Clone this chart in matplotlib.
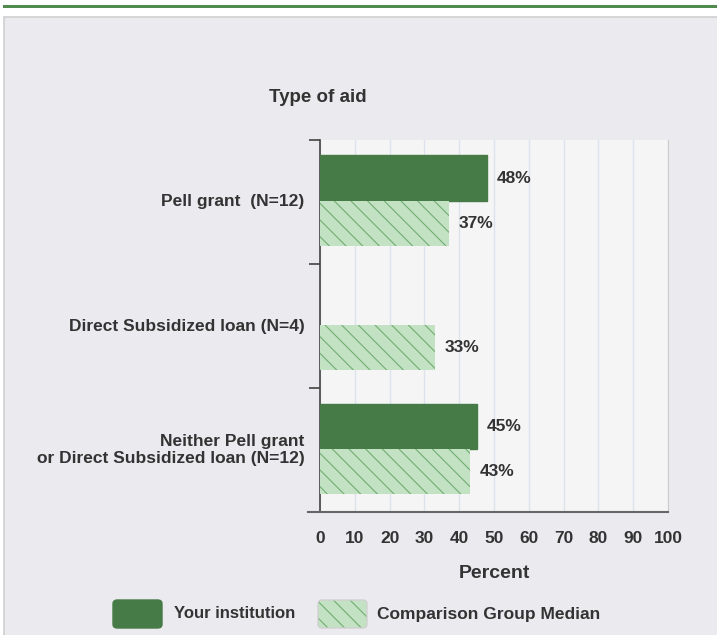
import matplotlib
matplotlib.use("Agg")
import matplotlib.pyplot as plt
from matplotlib.patches import Rectangle, FancyBboxPatch
import numpy as np

categories = ["Pell grant  (N=12)", "Direct Subsidized loan (N=4)",
              "Neither Pell grant\nor Direct Subsidized loan (N=12)"]
your_inst = [48, None, 45]
comparison = [37, 33, 43]
xticks = [0, 10, 20, 30, 40, 50, 60, 70, 80, 90, 100]

DARK = "#467a46"
LIGHT = "#c3e2c3"
HATCH = "#72ad72"
TXT = "#333333"
plt.rcParams['font.family'] = ['Liberation Sans', 'DejaVu Sans']
plt.rcParams['hatch.linewidth'] = 0.8
plt.rcParams['hatch.color'] = HATCH

W, H = 717, 635
fig = plt.figure(figsize=(W/100, H/100), dpi=100)
fig.patch.set_facecolor("white")

# top green line and grey panel
fig.add_artist(Rectangle((3/W, 1-8/H), 1, 3/H, transform=fig.transFigure,
                         facecolor="#4f8a4f", edgecolor="none", zorder=-2))
fig.add_artist(Rectangle((4/W, -0.01), 1, 1-17/H + 0.01, transform=fig.transFigure,
                         facecolor="#ebebef", edgecolor="#d0d0d0", linewidth=1.2, zorder=-2))

ax = fig.add_axes([320/W, 1-512/H, (668-320)/W, (512-140)/H])
ax.set_facecolor("#f5f5f5")
n = len(categories)
ax.set_xlim(0, 100)
ax.set_ylim(n, 0)

bh = 0.365
centers = np.arange(n) + 0.5
for i in range(n):
    c = centers[i]
    if your_inst[i] is not None:
        ax.barh(c - bh/2 - 0.01, your_inst[i], height=bh, color=DARK, edgecolor=DARK, zorder=3)
        ax.text(your_inst[i] + 2.8, c - bh/2 - 0.01, f"{your_inst[i]}%", va="center", ha="left",
                fontsize=12.5, fontweight="bold", color=TXT)
    ax.barh(c + bh/2 - 0.01, comparison[i], height=bh, color=LIGHT, edgecolor=HATCH,
            linewidth=0, hatch="\\\\", zorder=3)
    ax.text(comparison[i] + 2.8, c + bh/2 - 0.01, f"{comparison[i]}%", va="center", ha="left",
            fontsize=12.5, fontweight="bold", color=TXT)

ax.set_xticks(xticks)
ax.set_xticklabels([str(t) for t in xticks], fontsize=12.5, fontweight="bold", color=TXT)
ax.tick_params(axis="x", length=0, pad=14)
ax.grid(axis="x", color="#dce2ee", linewidth=1, zorder=0)
ax.set_axisbelow(True)

ax.set_yticks(np.arange(n + 1))
ax.set_yticklabels([""] * (n + 1))
ax.tick_params(axis="y", length=8, width=1.2, color="#444444")
for c, lab in zip(centers, categories):
    ax.text(-4.5, c, lab, ha="right", va="center", fontsize=12.5, fontweight="bold",
            color=TXT, linespacing=1.1)

ax.spines["top"].set_visible(False)
ax.spines["right"].set_color("#cccccc")
ax.spines["left"].set_color("#444444")
ax.spines["left"].set_linewidth(1.2)
ax.spines["bottom"].set_color("#666666")
ax.spines["bottom"].set_linewidth(1.5)
ax.spines["bottom"].set_bounds(-3.5, 100)

fig.text(318/W, 1-98/H, "Type of aid", ha="center", va="center", fontsize=13.5,
         fontweight="bold", color=TXT)
fig.text(494/W, 1-573/H, "Percent", ha="center", va="center", fontsize=14,
         fontweight="bold", color=TXT)

# legend
fig.add_artist(FancyBboxPatch((113/W, 1-628/H), 49/W, 28/H, transform=fig.transFigure,
                              boxstyle="round,pad=0,rounding_size=0.006",
                              facecolor=DARK, edgecolor=DARK))
fig.text(174/W, 1-614/H, "Your institution", ha="left", va="center", fontsize=12,
         fontweight="bold", color=TXT)
fig.add_artist(FancyBboxPatch((318/W, 1-628/H), 49/W, 28/H, transform=fig.transFigure,
                              boxstyle="round,pad=0,rounding_size=0.006",
                              facecolor=LIGHT, edgecolor=HATCH, linewidth=0, hatch="\\\\"))
fig.add_artist(FancyBboxPatch((318/W, 1-628/H), 49/W, 28/H, transform=fig.transFigure,
                              boxstyle="round,pad=0,rounding_size=0.006",
                              facecolor="none", edgecolor="#d0d0d0", linewidth=1))
fig.text(377/W, 1-614/H, "Comparison Group Median", ha="left", va="center", fontsize=12.5,
         fontweight="bold", color=TXT)

fig.savefig("out.png", dpi=100)
